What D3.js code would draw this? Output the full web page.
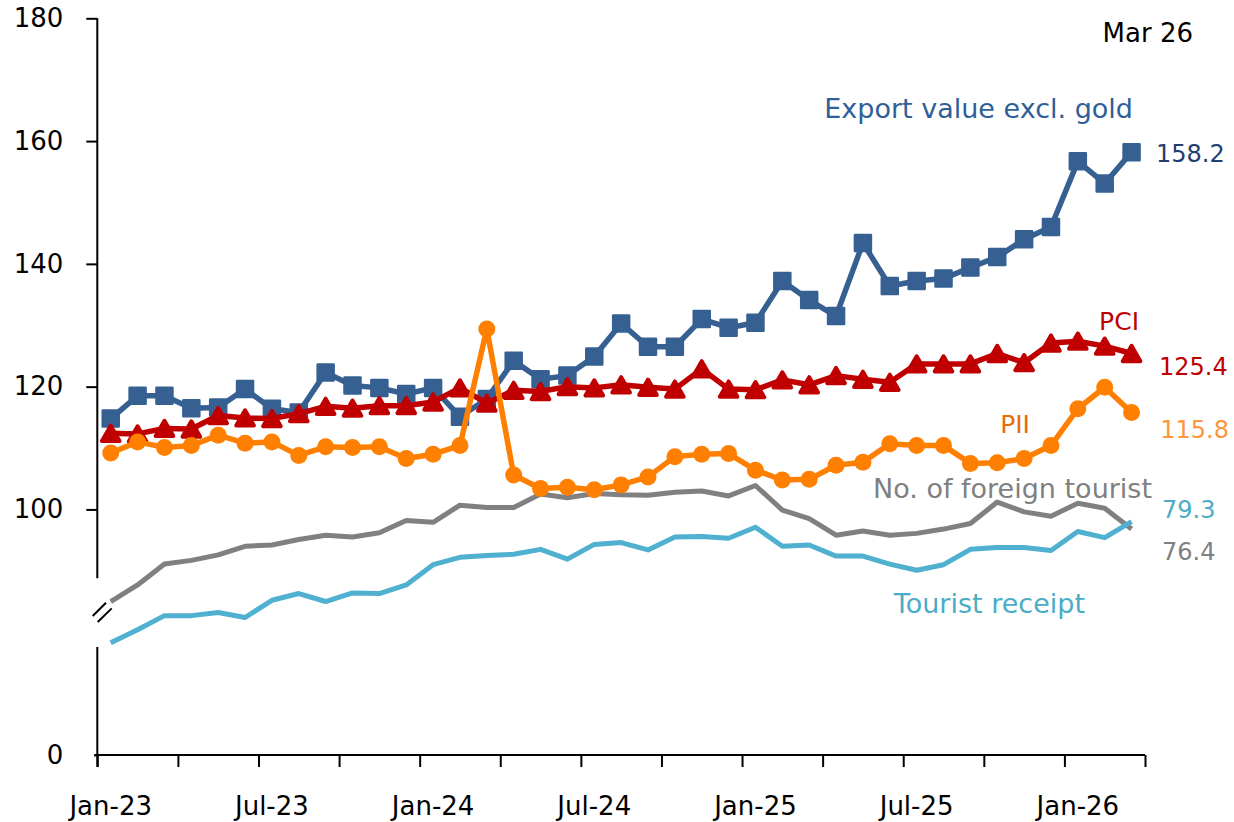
<!DOCTYPE html>
<html>
<head>
<meta charset="utf-8">
<script src="https://cdn.jsdelivr.net/npm/d3@7"></script>
<style>
  body { margin: 0; background: #fff; }
  text { font-family: "DejaVu Sans", sans-serif; }
</style>
</head>
<body>
<svg id="chart" width="1234" height="822"></svg>
<script>
// months Jan-23 .. Mar-26
const months = d3.timeMonth
  .range(new Date(2023, 0, 1), new Date(2026, 3, 1))
  .map(d3.timeFormat('%b-%y'));

const exportValue = [114.8, 118.5, 118.5, 116.5, 116.6, 119.6, 116.4, 115.8, 122.3, 120.2,
  119.8, 118.8, 119.8, 115.1, 118.0, 124.2, 121.2, 121.8, 124.9, 130.3,
  126.5, 126.5, 131.0, 129.6, 130.4, 137.2, 134.1, 131.5, 143.4, 136.4,
  137.2, 137.6, 139.4, 141.1, 144.0, 146.0, 156.7, 153.1, 158.2];

const pci = [112.4, 112.3, 113.2, 113.1, 115.3, 114.9, 114.8, 115.6, 116.8, 116.5,
  116.9, 116.9, 117.5, 119.8, 117.3, 119.4, 119.2, 120.0, 119.8, 120.3,
  119.9, 119.6, 122.9, 119.6, 119.5, 121.1, 120.3, 121.8, 121.2, 120.7,
  123.7, 123.7, 123.7, 125.4, 123.9, 127.1, 127.4, 126.6, 125.4];

const pii = [109.2, 111.0, 110.1, 110.4, 112.1, 110.8, 111.0, 108.8, 110.2, 110.1,
  110.2, 108.3, 109.0, 110.4, 129.4, 105.6, 103.4, 103.6, 103.2, 104.0,
  105.3, 108.6, 109.0, 109.1, 106.4, 104.8, 104.9, 107.2, 107.7, 110.7,
  110.4, 110.4, 107.5, 107.6, 108.3, 110.4, 116.4, 119.9, 115.8];

// tourist series as plotted against the broken axis
const foreignTourist = [85.0, 87.7, 91.1, 91.7, 92.6, 94.0, 94.2, 95.1, 95.8, 95.5,
  96.2, 98.2, 97.9, 100.7, 100.3, 100.3, 102.5, 101.9, 102.6, 102.4,
  102.3, 102.8, 103.0, 102.2, 103.9, 99.9, 98.5, 95.8, 96.5, 95.8,
  96.1, 96.8, 97.7, 101.2, 99.6, 98.9, 101.0, 100.2, 96.8];

const touristReceipt = [78.3, 80.4, 82.7, 82.7, 83.2, 82.4, 85.2, 86.3, 85.0, 86.4,
  86.3, 87.7, 91.0, 92.2, 92.5, 92.7, 93.5, 91.9, 94.3, 94.6,
  93.4, 95.5, 95.6, 95.3, 97.1, 94.0, 94.2, 92.4, 92.4, 91.1,
  90.1, 91.0, 93.5, 93.8, 93.8, 93.3, 96.4, 95.4, 98.0];

const yTicks = [60, 100, 120, 140, 160, 180];
const yTickLabels = ['0', '100', '120', '140', '160', '180'];
const xTickLabels = ['Jan-23', 'Jul-23', 'Jan-24', 'Jul-24', 'Jan-25', 'Jul-25', 'Jan-26'];
const axisBreak = [88.8, 77.6];

const svg = d3.select('#chart'),
  margin = { top: 18.3, right: 89, bottom: 67, left: 97.3 },
  width = +svg.attr('width'),
  height = +svg.attr('height');

const x = d3.scaleBand()
  .domain(months)
  .range([margin.left, width - margin.right]);

const xIdx = d3.scaleLinear()
  .domain([0, months.length])
  .range([margin.left, width - margin.right]);

const y = d3.scaleLinear()
  .domain([60, 180])
  .range([height - margin.bottom, margin.top]);

const cx = m => x(m) + x.bandwidth() / 2;

// y axis
svg.append('g')
  .attr('transform', `translate(${margin.left},0)`)
  .call(d3.axisLeft(y).tickValues(yTicks).tickFormat((d, i) => yTickLabels[i]).tickSize(11).tickPadding(23))
  .call(g => g.select('.domain').remove())
  .call(g => g.selectAll('line').attr('stroke', '#000').attr('stroke-width', 2))
  .call(g => g.selectAll('.tick').filter(d => d === 60).select('line').attr('x2', -3))
  .call(g => g.selectAll('text').attr('font-size', 26).attr('fill', '#000')
    .attr('font-family', '"DejaVu Sans", sans-serif'));

const axisLine = svg.append('g').attr('stroke', '#000').attr('stroke-width', 2);
axisLine.append('line')
  .attr('x1', margin.left).attr('x2', margin.left)
  .attr('y1', y(180)).attr('y2', y(axisBreak[0]));
axisLine.append('line')
  .attr('x1', margin.left).attr('x2', margin.left)
  .attr('y1', y(axisBreak[1])).attr('y2', y(60) + 12);

// break marks
const bx = margin.left + 4.7, by = y((axisBreak[0] + axisBreak[1]) / 2) - 0.5;
axisLine.append('path')
  .attr('fill', 'none')
  .attr('d', `M${bx - 9.3},${by + 4}L${bx + 4},${by - 9.3}M${bx - 4.3},${by + 10}L${bx + 9.7},${by - 3.7}`);

// x axis
svg.append('g')
  .attr('transform', `translate(0,${y(60)})`)
  .call(d3.axisBottom(xIdx).tickValues(d3.range(0, months.length + 1, 3)).tickFormat('').tickSize(12).tickSizeOuter(0))
  .call(g => g.select('.domain').remove())
  .call(g => g.selectAll('line').attr('stroke', '#000').attr('stroke-width', 2));

axisLine.append('line')
  .attr('x1', margin.left - 3).attr('x2', width - margin.right)
  .attr('y1', y(60)).attr('y2', y(60));

svg.append('g')
  .selectAll('text')
  .data(xTickLabels)
  .enter()
  .append('text')
  .attr('x', d => cx(d))
  .attr('y', 815)
  .attr('text-anchor', 'middle')
  .attr('font-size', 26)
  .text(d => d);

// lines
const line = values => d3.line()
  .x((d, i) => cx(months[i]))
  .y(d => y(d))(values);

const drawLine = (values, color, w) =>
  svg.append('path')
    .attr('d', line(values))
    .attr('fill', 'none')
    .attr('stroke', color)
    .attr('stroke-width', w)
    .attr('stroke-linejoin', 'round');

drawLine(foreignTourist, '#808080', 5);
drawLine(touristReceipt, '#4fb0cf', 5);

// export value
drawLine(exportValue, '#366092', 5.5);
svg.append('g')
  .selectAll('rect')
  .data(exportValue)
  .enter()
  .append('rect')
  .attr('x', (d, i) => cx(months[i]) - 8)
  .attr('y', d => y(d) - 8)
  .attr('width', 16)
  .attr('height', 16)
  .attr('fill', '#366092')
  .attr('stroke', '#366092')
  .attr('stroke-width', 2.5)
  .attr('stroke-linejoin', 'round');

// PCI
drawLine(pci, '#c00000', 5.5);
const tri = d3.symbol().type(d3.symbolTriangle).size(135);
const triOffset = Math.sqrt(135 / (Math.sqrt(3) * 3)) / 2;
svg.append('g')
  .selectAll('path')
  .data(pci)
  .enter()
  .append('path')
  .attr('d', tri)
  .attr('transform', (d, i) => `translate(${cx(months[i])},${y(d) + triOffset})`)
  .attr('fill', '#c00000')
  .attr('stroke', '#c00000')
  .attr('stroke-width', 4)
  .attr('stroke-linejoin', 'round');

// PII
drawLine(pii, '#ff8000', 5.5);
svg.append('g')
  .selectAll('circle')
  .data(pii)
  .enter()
  .append('circle')
  .attr('cx', (d, i) => cx(months[i]))
  .attr('cy', d => y(d))
  .attr('r', 8.5)
  .attr('fill', '#ff8000');

// labels
const labels = [
  { text: 'Mar 26', x: 1193, y: 42, size: 26, color: '#000', anchor: 'end' },
  { text: 'Export value excl. gold', x: 1133, y: 118, size: 27, color: '#2f5f98', anchor: 'end' },
  { text: '158.2', x: 1156, y: 162, size: 24, color: '#1f3f73', anchor: 'start' },
  { text: 'PCI', x: 1139, y: 330, size: 25, color: '#c00000', anchor: 'end' },
  { text: '125.4', x: 1159, y: 375, size: 24, color: '#c00000', anchor: 'start' },
  { text: 'PII', x: 1030, y: 433, size: 25, color: '#e46c0a', anchor: 'end' },
  { text: '115.8', x: 1229, y: 438, size: 24, color: '#f9963e', anchor: 'end' },
  { text: 'No. of foreign tourist', x: 1152, y: 498, size: 27, color: '#808080', anchor: 'end' },
  { text: '79.3', x: 1162, y: 518, size: 24, color: '#4bacc6', anchor: 'start' },
  { text: '76.4', x: 1162, y: 560, size: 24, color: '#808080', anchor: 'start' },
  { text: 'Tourist receipt', x: 1085, y: 613, size: 27, color: '#4bacc6', anchor: 'end' }
];

svg.append('g')
  .selectAll('text')
  .data(labels)
  .enter()
  .append('text')
  .attr('x', d => d.x)
  .attr('y', d => d.y)
  .attr('text-anchor', d => d.anchor)
  .attr('font-size', d => d.size)
  .attr('fill', d => d.color)
  .text(d => d.text);
</script>
</body>
</html>
